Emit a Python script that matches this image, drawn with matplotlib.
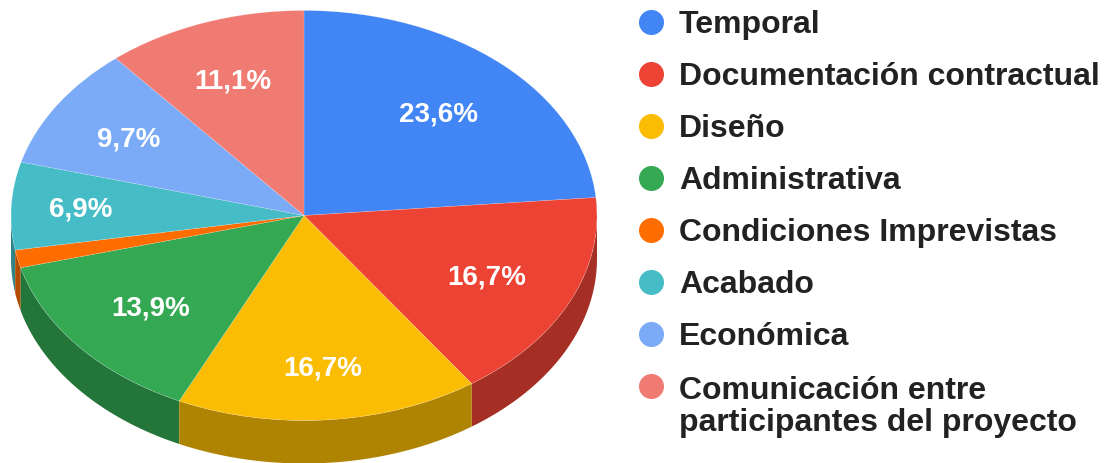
import numpy as np
import matplotlib
matplotlib.use("Agg")
import matplotlib.pyplot as plt
from matplotlib.patches import Polygon

categories = ["Temporal", "Documentación contractual", "Diseño", "Administrativa",
              "Condiciones Imprevistas", "Acabado", "Económica",
              "Comunicación entre\nparticipantes del proyecto"]
values = [23.6, 16.7, 16.7, 13.9, 1.4, 6.9, 9.7, 11.1]
labels = ["23,6%", "16,7%", "16,7%", "13,9%", "", "6,9%", "9,7%", "11,1%"]
colors = ["#4285F4", "#EC4335", "#FBBC04", "#34A853", "#FF6D00", "#46BDC6", "#7BAAF7", "#F07B72"]
sides = ["#2E5DAB", "#A62F25", "#AF8403", "#24753A", "#B24C00", "#31848A", "#5676AC", "#A8564F"]

W, H = 1113, 464
CX, CY, RX, RY, DEPTH = 304, 216.5, 293, 205, 43
LEG_X, TXT_X = 650.5, 679
LEG_Y = [23, 75, 127, 179, 231, 283, 335, 387]
LABEL_R = 0.70
# fine placement of the value labels, in pixels (right, down)
LABEL_NUDGE = [(-4, 4), (-3, 0), (1, 9), (4, 0), (0, 0), (-18, 0), (-2, 0), (-1, 0)]

fig = plt.figure(figsize=(W/100, H/100), dpi=100)
ax = fig.add_axes([0, 0, 1, 1])
d = DEPTH / RY

fr = np.cumsum([0] + values) / sum(values)
# side walls, back-to-front
for i in np.argsort([-abs((fr[k] + fr[k+1]) / 2 - 0.5) for k in range(len(values))]):
    a, b = 2*np.pi*fr[i], 2*np.pi*fr[i+1]
    t = np.linspace(a, b, 200)
    x, y = np.sin(t), np.cos(t)
    vis = y <= 0.0
    if vis.sum() < 2:
        continue
    xs, ys = x[vis], y[vis]
    pts = np.r_[np.c_[xs, ys], np.c_[xs[::-1], ys[::-1] - d]]
    ax.add_patch(Polygon(pts, closed=True, facecolor=sides[i], edgecolor="none", zorder=1))

ax.pie(values, colors=colors, startangle=90, counterclock=False, radius=1,
       wedgeprops={"linewidth": 0.3, "edgecolor": "#FFFFFF60", "zorder": 2})

for i, lab in enumerate(labels):
    if not lab:
        continue
    m = 2*np.pi*(fr[i] + fr[i+1]) / 2
    nx, ny = LABEL_NUDGE[i]
    ax.text(LABEL_R*np.sin(m) + nx/RX, LABEL_R*np.cos(m) - ny/RY, lab, color="white", fontsize=20,
            fontweight="bold", family="Liberation Sans", ha="center", va="center", zorder=3)

ax.set_aspect("auto")
ax.set_xlim(-CX/RX, (W-CX)/RX)
ax.set_ylim(-(H-CY)/RY, CY/RY)
ax.axis("off")

# legend in pixel coordinates
def py(p):
    return 1 - p / H
for cat, col, y in zip(categories, colors, LEG_Y):
    ax.scatter([LEG_X/W], [py(y)], s=325, color=col, transform=ax.transAxes, linewidths=0, zorder=4, clip_on=False)
    first = y + (20 if "\n" in cat else 2)
    ax.text(TXT_X/W, py(first), cat, transform=ax.transAxes, fontsize=23, fontweight="bold",
            family="Liberation Sans", color="#222222", ha="left", va="center", linespacing=1.08)

fig.savefig("out.png", dpi=100)
